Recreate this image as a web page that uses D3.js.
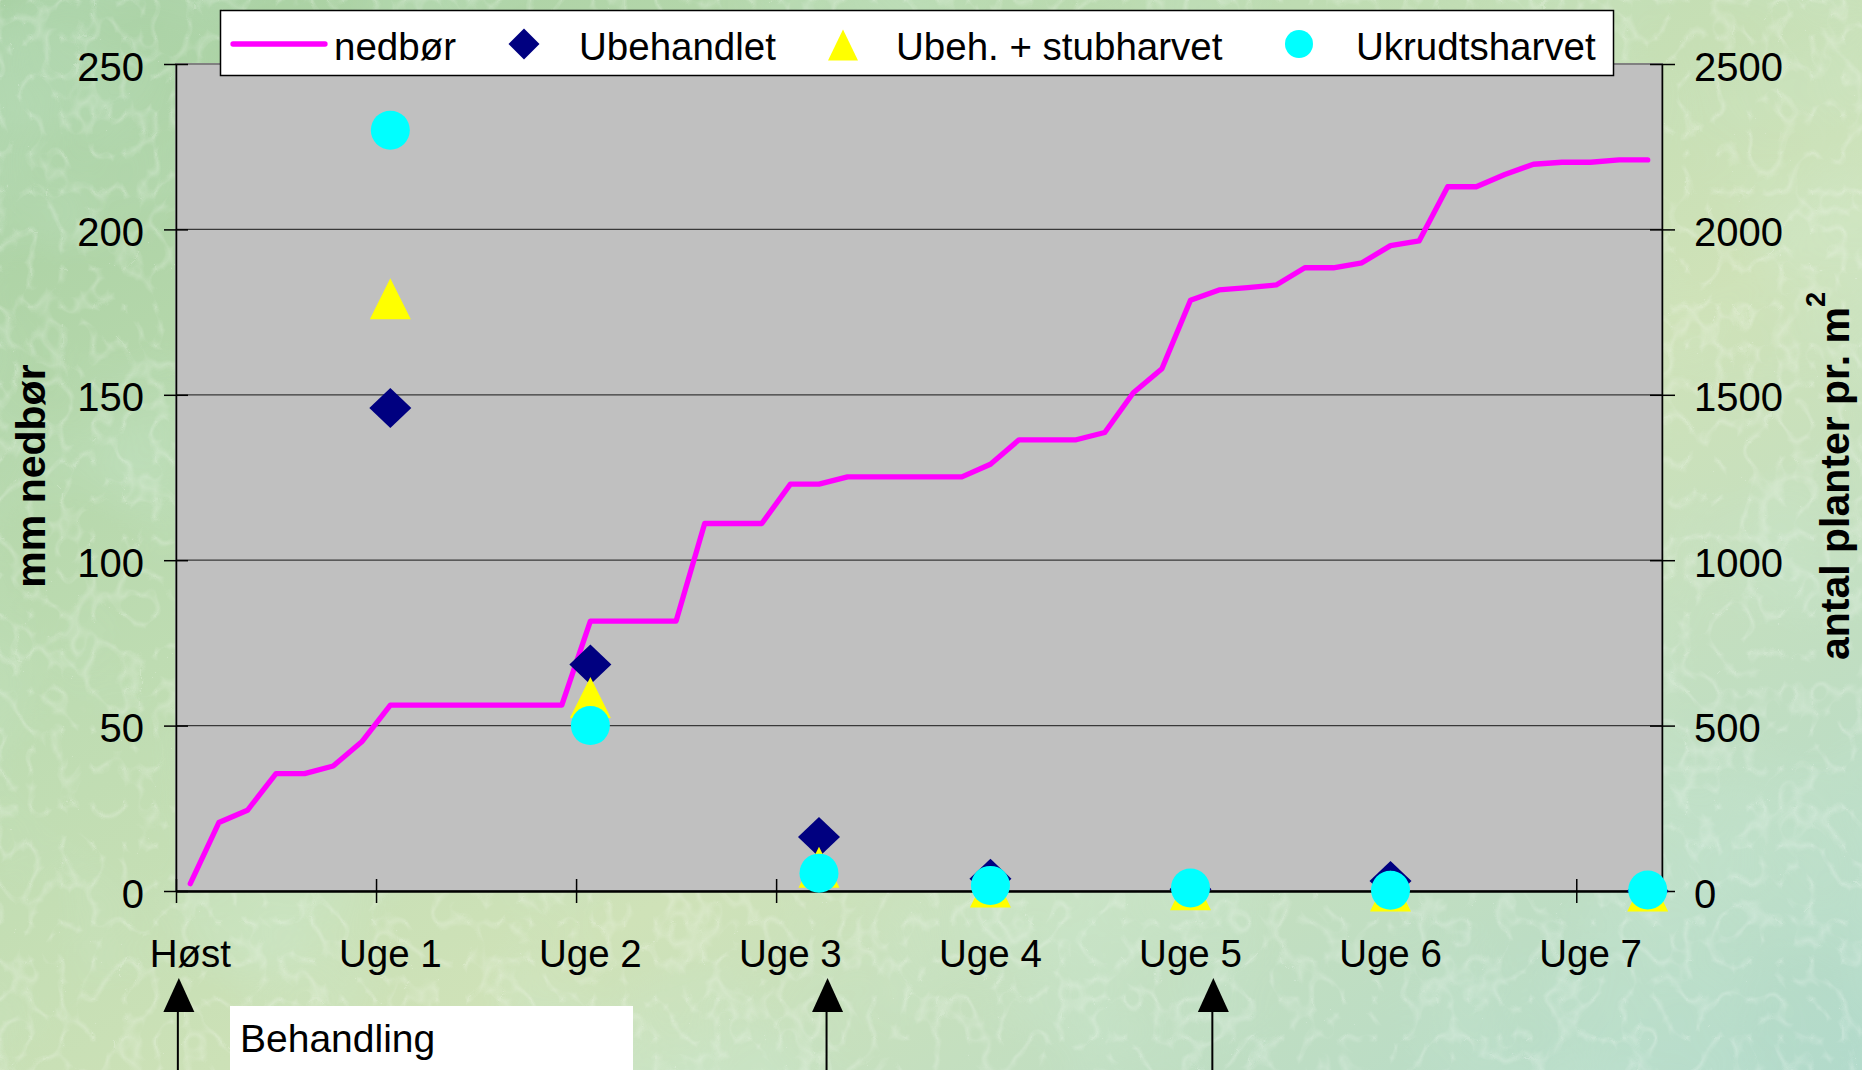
<!DOCTYPE html>
<html lang="da">
<head>
<meta charset="UTF-8">
<title>Nedbør og fremspiring</title>
<script src="https://cdn.jsdelivr.net/npm/d3@7"></script>
<style>
  body { margin: 0; }
  svg { display: block; font-family: "Liberation Sans", Arial, sans-serif; }
</style>
</head>
<body>
<svg width="1862" height="1070"></svg>
<script>
// cumulative precipitation (mm), one value per day
const nedbor = [2.2, 20.7, 24.4, 35.5, 35.5, 37.8, 45.1,
  56.2, 56.2, 56.2, 56.2, 56.2, 56.2, 56.2,
  81.6, 81.6, 81.6, 81.6, 111.1, 111.1, 111.1,
  123.0, 123.0, 125.2, 125.2, 125.2, 125.2, 125.2,
  129.0, 136.4, 136.4, 136.4, 138.6, 150.6, 157.9,
  178.6, 181.7, 182.4, 183.2, 188.4, 188.4, 189.9,
  195.1, 196.5, 212.9, 212.9, 216.6, 219.7, 220.3,
  220.3, 221.0, 221.0];

// plant counts per m2 (right axis), on these days
const sampleDays = [7, 14, 22, 28, 35, 42, 51];
const ubehandlet = [1460, 685, 163, 37, 5, 30, 0];
const stubharvet = [1790, 585, 72, 12, 4, 0, 0];
const ukrudtsharvet = [2300, 500, 54, 17, 9, 2, 3];

const xLabels = ["Høst", "Uge 1", "Uge 2", "Uge 3", "Uge 4", "Uge 5", "Uge 6", "Uge 7"];
const labelDays = [0, 7, 14, 21, 28, 35, 42, 49];
const leftTicks = [0, 50, 100, 150, 200, 250];
const rightTicks = [0, 500, 1000, 1500, 2000, 2500];
const behandlingDays = [0.1, 22.8, 36.3];

const svg = d3.select("svg");
const L = 176, R = 1662, T = 64, B = 891;

// ---- background ----
const defs = svg.append("defs");
const bg = defs.append("linearGradient").attr("id", "bg")
  .attr("x1", 0).attr("y1", 0).attr("x2", 1).attr("y2", 1);
bg.append("stop").attr("offset", 0).attr("stop-color", "#a6cfa0");
bg.append("stop").attr("offset", 0.35).attr("stop-color", "#bedcb2");
bg.append("stop").attr("offset", 0.6).attr("stop-color", "#cfe2b8");
bg.append("stop").attr("offset", 1).attr("stop-color", "#b2dacb");

const f1 = defs.append("filter").attr("id", "blot")
  .attr("x", 0).attr("y", 0).attr("width", 1).attr("height", 1);
f1.append("feTurbulence").attr("type", "fractalNoise")
  .attr("baseFrequency", "0.004").attr("numOctaves", 3).attr("seed", 4);
f1.append("feColorMatrix").attr("type", "matrix")
  .attr("values", "0 0 0 0 0.62  0 0 0 0 0.85  0 0 0 0 0.72  1.4 0 0 0 -0.55");

const f2 = defs.append("filter").attr("id", "veins")
  .attr("x", 0).attr("y", 0).attr("width", 1).attr("height", 1);
f2.append("feTurbulence").attr("type", "turbulence")
  .attr("baseFrequency", "0.032 0.026").attr("numOctaves", 2).attr("seed", 7);
f2.append("feColorMatrix").attr("type", "matrix")
  .attr("values", "0 0 0 0 1  0 0 0 0 1  0 0 0 0 1  -4 0 0 0 0.75");

svg.append("rect").attr("width", 1862).attr("height", 1070).attr("fill", "url(#bg)");
svg.append("rect").attr("width", 1862).attr("height", 1070)
  .attr("filter", "url(#blot)").attr("opacity", 0.45);
svg.append("rect").attr("width", 1862).attr("height", 1070)
  .attr("filter", "url(#veins)").attr("opacity", 0.28);

// ---- scales ----
const xDay = d3.scaleLinear().domain([0, nedbor.length]).range([L, R]);
const cx = i => xDay(i + 0.5);
const yL = d3.scaleLinear().domain([0, 250]).range([B, T]);
const yR = d3.scaleLinear().domain([0, 2500]).range([B, T]);

// plot area
svg.append("rect").attr("x", L).attr("y", T).attr("width", R - L).attr("height", B - T)
  .attr("fill", "#c0c0c0").attr("stroke", "#808080").attr("stroke-width", 2);

// gridlines
svg.append("g").selectAll("line").data(leftTicks.filter(d => d > 0 && d < 250)).join("line")
  .attr("x1", L).attr("x2", R).attr("y1", d => yL(d)).attr("y2", d => yL(d))
  .attr("stroke", "#383838").attr("stroke-width", 1.3);

// axes
const fontTick = "40px";
const gL = svg.append("g").attr("transform", `translate(${L},0)`)
  .call(d3.axisLeft(yL).tickValues(leftTicks).tickSize(12).tickSizeOuter(0).tickPadding(20));
gL.selectAll(".tick line").attr("x1", 12);
gL.selectAll("text").attr("dy", "0.4em");

const gR = svg.append("g").attr("transform", `translate(${R},0)`)
  .call(d3.axisRight(yR).tickValues(rightTicks).tickFormat(d3.format("d"))
    .tickSize(13).tickSizeOuter(0).tickPadding(19));
gR.selectAll(".tick line").attr("x1", -12);
gR.selectAll("text").attr("dy", "0.4em");

const gB = svg.append("g").attr("transform", `translate(0,${B})`)
  .call(d3.axisBottom(xDay).tickValues(labelDays).tickSize(12).tickSizeOuter(0).tickFormat(""));
gB.selectAll(".tick line").attr("y1", -12);

[gL, gR, gB].forEach(g => {
  g.attr("font-family", null).attr("font-size", fontTick);
  g.selectAll("line, path").attr("stroke", "#000").attr("stroke-width", 1.5);
  g.selectAll("text").attr("fill", "#000");
});
gB.select(".domain").attr("stroke-width", 2.5);

svg.append("g").selectAll("text").data(xLabels).join("text")
  .attr("x", (d, i) => cx(labelDays[i])).attr("y", 967)
  .attr("text-anchor", "middle").attr("font-size", "38.5px").text(d => d);

// axis titles
svg.append("text").attr("transform", "translate(45,476) rotate(-90)")
  .attr("text-anchor", "middle").attr("font-weight", "bold").attr("font-size", "41px")
  .text("mm nedbør");
const rt = svg.append("text").attr("transform", "translate(1849,476) rotate(-90)")
  .attr("text-anchor", "middle").attr("font-weight", "bold").attr("font-size", "41px");
rt.append("tspan").text("antal planter pr. m");
rt.append("tspan").attr("font-size", "27px").attr("dy", -24).text("2");

// ---- precipitation line ----
const line = d3.line().x((d, i) => cx(i)).y(d => yL(d));
svg.append("path").attr("d", line(nedbor)).attr("fill", "none")
  .attr("stroke", "#ff00ff").attr("stroke-width", 5.3)
  .attr("stroke-linejoin", "round").attr("stroke-linecap", "round");

// ---- markers ----
const diamond = (w, h) => `M0,${-h}L${w},0L0,${h}L${-w},0Z`;
const triangle = (w, h) => `M0,${-h}L${w},${h}L${-w},${h}Z`;

svg.append("g").selectAll("path").data(ubehandlet).join("path")
  .attr("transform", (d, i) => `translate(${cx(sampleDays[i])},${yR(d)})`)
  .attr("d", diamond(21, 20)).attr("fill", "#000080");
svg.append("g").selectAll("path").data(stubharvet).join("path")
  .attr("transform", (d, i) => `translate(${cx(sampleDays[i])},${yR(d)})`)
  .attr("d", triangle(20.5, 20.5)).attr("fill", "#ffff00");
svg.append("g").selectAll("circle").data(ukrudtsharvet).join("circle")
  .attr("cx", (d, i) => cx(sampleDays[i])).attr("cy", d => yR(d))
  .attr("r", 19.5).attr("fill", "#00ffff");

// ---- legend ----
const lg = svg.append("g").attr("font-size", "38.5px");
lg.append("rect").attr("x", 220.5).attr("y", 10.5).attr("width", 1393).attr("height", 65)
  .attr("fill", "#fff").attr("stroke", "#000").attr("stroke-width", 1.5);
lg.append("line").attr("x1", 233).attr("x2", 325).attr("y1", 44).attr("y2", 44)
  .attr("stroke", "#ff00ff").attr("stroke-width", 5.3).attr("stroke-linecap", "round");
lg.append("text").attr("x", 334).attr("y", 60).text("nedbør");
lg.append("path").attr("transform", "translate(524,44)").attr("d", diamond(15.5, 15.5)).attr("fill", "#000080");
lg.append("text").attr("x", 579).attr("y", 60).text("Ubehandlet");
lg.append("path").attr("transform", "translate(843,45)").attr("d", triangle(15, 15.5)).attr("fill", "#ffff00");
lg.append("text").attr("x", 896).attr("y", 60).text("Ubeh. + stubharvet");
lg.append("circle").attr("cx", 1299).attr("cy", 44).attr("r", 14).attr("fill", "#00ffff");
lg.append("text").attr("x", 1356).attr("y", 60).text("Ukrudtsharvet");

// ---- treatment arrows ----
const ar = svg.append("g");
behandlingDays.forEach(d => {
  const x = xDay(d);
  ar.append("line").attr("x1", x - 1).attr("x2", x - 1).attr("y1", 1008).attr("y2", 1070)
    .attr("stroke", "#000").attr("stroke-width", 2);
  ar.append("path").attr("d", `M${x},978L${x + 15.5},1012L${x - 15.5},1012Z`).attr("fill", "#000");
});
svg.append("rect").attr("x", 230).attr("y", 1006).attr("width", 403).attr("height", 64).attr("fill", "#fff");
svg.append("text").attr("x", 240).attr("y", 1052).attr("font-size", "39px").text("Behandling");
</script>
</body>
</html>
